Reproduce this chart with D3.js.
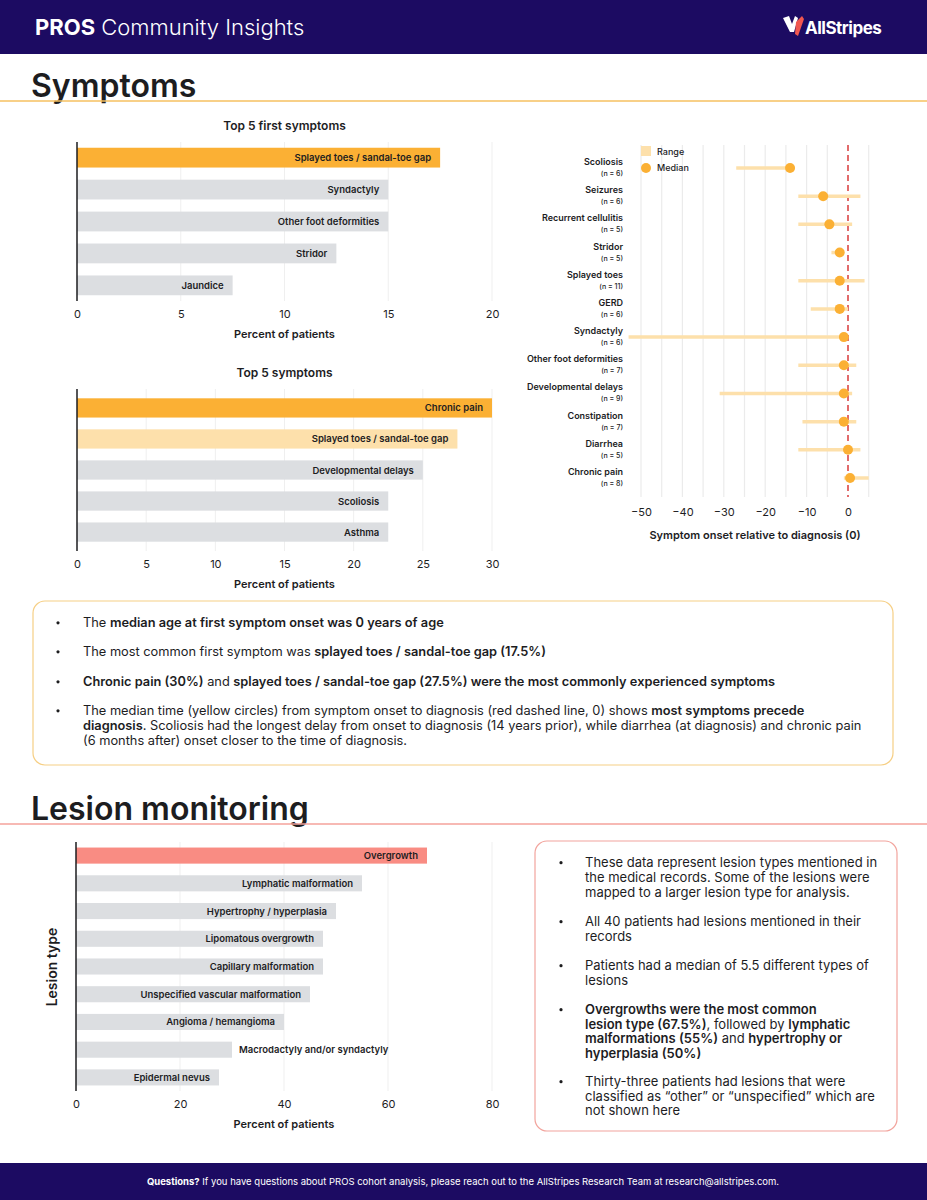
<!DOCTYPE html>
<html>
<head>
<meta charset="utf-8">
<script src="https://cdn.jsdelivr.net/npm/d3@7"></script>
<style>
  body { margin: 0; background: #fff; }
  svg { display: block; font-family: Inter, "Open Sans", sans-serif; }
</style>
</head>
<body>
<script>
// ---- data ----
const firstSymptoms = ["Splayed toes / sandal-toe gap", "Syndactyly", "Other foot deformities", "Stridor", "Jaundice"];
const firstSymptomPct = [17.5, 15, 15, 12.5, 7.5];
const firstTicks = [0, 5, 10, 15, 20];

const topSymptoms = ["Chronic pain", "Splayed toes / sandal-toe gap", "Developmental delays", "Scoliosis", "Asthma"];
const topSymptomPct = [30, 27.5, 25, 22.5, 22.5];
const topTicks = [0, 5, 10, 15, 20, 25, 30];

const onsetNames = ["Scoliosis", "Seizures", "Recurrent cellulitis", "Stridor", "Splayed toes", "GERD",
  "Syndactyly", "Other foot deformities", "Developmental delays", "Constipation", "Diarrhea", "Chronic pain"];
const onsetN = [6, 6, 5, 5, 11, 6, 6, 7, 9, 7, 5, 8];
const onsetMin = [-27, -12, -12, -4, -12, -9, -53, -12, -31, -11, -12, -1];
const onsetMax = [-14, 3, 1, -2, 4, 0, -1, 2, 1, 2, 3, 5];
const onsetMedian = [-14, -6, -4.5, -2, -2, -2, -1, -1, -1, -1, 0, 0.5];
const onsetTicks = [-50, -40, -30, -20, -10, 0];

const lesionTypes = ["Overgrowth", "Lymphatic malformation", "Hypertrophy / hyperplasia", "Lipomatous overgrowth",
  "Capillary malformation", "Unspecified vascular malformation", "Angioma / hemangioma",
  "Macrodactyly and/or syndactyly", "Epidermal nevus"];
const lesionPct = [67.5, 55, 50, 47.5, 47.5, 45, 40, 30, 27.5];
const lesionTicks = [0, 20, 40, 60, 80];

const NAVY = "#1c0b62";
const ORANGE = "#fbb034";
const LIGHT = "#fde0ab";
const GRAY = "#dcdee1";
const SALMON = "#f98c83";
const INK = "#1d1d1f";

const svg = d3.select("body").append("svg").attr("width", 927).attr("height", 1200);

// ---- header ----
svg.append("rect").attr("x", 0).attr("y", 0).attr("width", 927).attr("height", 54).attr("fill", NAVY);
const ht = svg.append("text").attr("x", 35).attr("y", 35).attr("fill", "#fff").attr("font-size", 22);
ht.append("tspan").attr("font-weight", 700).text("PROS");
ht.append("tspan").attr("font-weight", 300).text(" Community Insights");

// logo
const logo = svg.append("g").attr("transform", "translate(783,16)");
logo.append("path").attr("d", "M0,2 L6,0 L9,8 L12,0 L15,2 L11,16 L7,16 Z").attr("fill", "#fff");
logo.append("path").attr("d", "M13,6 L19,0 L21,3 L15,20 L12,18 Z").attr("fill", "#f0574f");
svg.append("text").attr("x", 805).attr("y", 34).attr("fill", "#fff").attr("font-size", 17)
  .attr("font-weight", 700).attr("letter-spacing", -0.5).text("AllStripes");

// ---- section titles ----
function sectionTitle(label, y, color) {
  svg.append("text").attr("x", 31).attr("y", y).attr("fill", INK).attr("font-size", 32)
    .attr("font-weight", 600).text(label);
  svg.append("line").attr("x1", 0).attr("x2", 927).attr("y1", y + 4).attr("y2", y + 4)
    .attr("stroke", color).attr("stroke-width", 1.5);
}
sectionTitle("Symptoms", 97, "#f6c060");
sectionTitle("Lesion monitoring", 820, "#f4a29b");

// ---- horizontal bar chart ----
function barChart(o) {
  const x = d3.scaleLinear().domain(o.domain).range([o.x0, o.x1]);
  const y = d3.scaleBand().domain(o.cats).range([o.yTop, o.yBot]).paddingInner(o.padIn).paddingOuter(o.padOut);
  const g = svg.append("g");
  if (o.title) {
    g.append("text").attr("x", (o.x0 + o.x1) / 2).attr("y", o.yTop - 12).attr("text-anchor", "middle")
      .attr("font-size", 12).attr("font-weight", 600).attr("fill", INK).text(o.title);
  }
  // grid
  g.selectAll(".grid").data(o.ticks.slice(1)).join("line")
    .attr("x1", d => x(d)).attr("x2", d => x(d)).attr("y1", o.yTop).attr("y2", o.yBot)
    .attr("stroke", "#efefef").attr("stroke-width", 1);
  const rows = g.selectAll(".bar").data(o.cats).join("g");
  rows.append("rect")
    .attr("x", x(0)).attr("y", d => y(d)).attr("height", y.bandwidth())
    .attr("width", (d, i) => x(o.vals[i]) - x(0))
    .attr("fill", (d, i) => o.colors[i] || GRAY);
  rows.append("text")
    .attr("y", d => y(d) + y.bandwidth() / 2 + 3.5)
    .attr("font-size", o.labelSize).attr("font-weight", 600).attr("fill", INK)
    .text(d => d)
    .each(function (d, i) {
      const w = this.getComputedTextLength();
      const end = x(o.vals[i]);
      if (w + 20 < end - x(0)) {
        d3.select(this).attr("x", end - 9).attr("text-anchor", "end");
      } else {
        d3.select(this).attr("x", end + 7).attr("text-anchor", "start");
      }
    });
  // axis
  const ax = g.append("g").attr("transform", `translate(0,${o.yBot})`)
    .call(d3.axisBottom(x).tickValues(o.ticks).tickSize(0).tickPadding(9));
  ax.select(".domain").remove();
  ax.selectAll("text").attr("font-size", 11).attr("fill", INK).attr("font-family", "Inter, sans-serif");
  g.append("line").attr("x1", x(0)).attr("x2", x(0)).attr("y1", o.yTop).attr("y2", o.yBot)
    .attr("stroke", INK).attr("stroke-width", 1.5);
  g.append("text").attr("x", (o.x0 + o.x1) / 2).attr("y", o.yBot + 37).attr("text-anchor", "middle")
    .attr("font-size", 11).attr("font-weight", 600).attr("fill", INK).text("Percent of patients");
  return g;
}

barChart({ cats: firstSymptoms, vals: firstSymptomPct, ticks: firstTicks, domain: [0, 20],
  colors: [ORANGE], x0: 77, x1: 492, yTop: 142, yBot: 301, padIn: 0.38, padOut: 0.18,
  labelSize: 9.5, title: "Top 5 first symptoms" });
barChart({ cats: topSymptoms, vals: topSymptomPct, ticks: topTicks, domain: [0, 30],
  colors: [ORANGE, LIGHT], x0: 77, x1: 492, yTop: 389, yBot: 551, padIn: 0.38, padOut: 0.3,
  labelSize: 9.5, title: "Top 5 symptoms" });

// ---- onset dot chart ----
(function () {
  const x = d3.scaleLinear().domain([-50, 0]).range([641, 848]);
  const y = d3.scalePoint().domain(onsetNames).range([168, 478]);
  const g = svg.append("g");
  g.selectAll(".grid").data(d3.range(-50, 6, 5).filter(d => d !== 0)).join("line")
    .attr("x1", d => x(d)).attr("x2", d => x(d)).attr("y1", 145).attr("y2", 497)
    .attr("stroke", "#ebebeb").attr("stroke-width", 1.2);
  g.append("line").attr("x1", x(0)).attr("x2", x(0)).attr("y1", 145).attr("y2", 497)
    .attr("stroke", "#e26b6b").attr("stroke-width", 2).attr("stroke-dasharray", "6,4");
  const rows = g.selectAll(".row").data(onsetNames).join("g");
  rows.append("line")
    .attr("x1", (d, i) => x(onsetMin[i])).attr("x2", (d, i) => x(onsetMax[i]))
    .attr("y1", d => y(d)).attr("y2", d => y(d))
    .attr("stroke", LIGHT).attr("stroke-width", 3.5);
  rows.append("circle").attr("cx", (d, i) => x(onsetMedian[i])).attr("cy", d => y(d)).attr("r", 5)
    .attr("fill", ORANGE);
  rows.append("text").attr("x", 623).attr("y", d => y(d) - 3).attr("text-anchor", "end")
    .attr("font-size", 9).attr("font-weight", 600).attr("fill", INK).text(d => d);
  rows.append("text").attr("x", 623).attr("y", d => y(d) + 8).attr("text-anchor", "end")
    .attr("font-size", 7).attr("font-weight", 500).attr("fill", INK).text((d, i) => `(n = ${onsetN[i]})`);
  // legend
  g.append("rect").attr("x", 641).attr("y", 146).attr("width", 10).attr("height", 10).attr("fill", LIGHT);
  g.append("circle").attr("cx", 646).attr("cy", 168).attr("r", 5).attr("fill", ORANGE);
  g.append("text").attr("x", 657).attr("y", 155).attr("font-size", 9).attr("font-weight", 500).attr("fill", INK).text("Range");
  g.append("text").attr("x", 657).attr("y", 171).attr("font-size", 9).attr("font-weight", 500).attr("fill", INK).text("Median");
  const ax = g.append("g").attr("transform", "translate(0,497)")
    .call(d3.axisBottom(x).tickValues(onsetTicks).tickSize(0).tickPadding(11).tickFormat(d => d < 0 ? "\u2212" + (-d) : d));
  ax.select(".domain").remove();
  ax.selectAll("text").attr("font-size", 11).attr("fill", INK).attr("font-family", "Inter, sans-serif");
  g.append("text").attr("x", 755).attr("y", 539).attr("text-anchor", "middle").attr("font-size", 11)
    .attr("font-weight", 600).attr("fill", INK).text("Symptom onset relative to diagnosis (0)");
})();

// ---- text boxes ----
function box(x, y, w, h, color) {
  svg.append("rect").attr("x", x).attr("y", y).attr("width", w).attr("height", h).attr("rx", 12)
    .attr("fill", "#fff").attr("stroke", color).attr("stroke-width", 1.2);
}
function richLines(xBullet, xText, items, size) {
  items.forEach(it => {
    svg.append("circle").attr("cx", xBullet).attr("cy", it.lines[0].y - size * 0.33).attr("r", 1.6).attr("fill", INK);
    it.lines.forEach(l => {
      const t = svg.append("text").attr("x", xText).attr("y", l.y).attr("font-size", size).attr("fill", INK);
      l.parts.forEach(p => t.append("tspan").attr("font-weight", p[1] ? 600 : 400).text(p[0]));
    });
  });
}

box(33, 601, 860, 164, "#f6cf85");
richLines(58, 83, [
  { lines: [{ y: 627, parts: [["The ", 0], ["median age at first symptom onset was 0 years of age", 1]] }] },
  { lines: [{ y: 656, parts: [["The most common first symptom was ", 0], ["splayed toes / sandal-toe gap (17.5%)", 1]] }] },
  { lines: [{ y: 686, parts: [["Chronic pain (30%)", 1], [" and ", 0], ["splayed toes / sandal-toe gap  (27.5%) were the most commonly experienced symptoms", 1]] }] },
  { lines: [
    { y: 715, parts: [["The median time (yellow circles) from symptom onset to diagnosis (red dashed line, 0) shows ", 0], ["most symptoms precede", 1]] },
    { y: 730, parts: [["diagnosis", 1], [". Scoliosis had the longest delay from onset to diagnosis (14 years prior), while diarrhea (at diagnosis) and chronic pain", 0]] },
    { y: 745, parts: [["(6 months after) onset closer to the time of diagnosis.", 0]] }] }
], 12.8);

// ---- lesion chart ----
barChart({ cats: lesionTypes, vals: lesionPct, ticks: lesionTicks, domain: [0, 80],
  colors: [SALMON], x0: 76, x1: 492, yTop: 842, yBot: 1091, padIn: 0.42, padOut: 0.2,
  labelSize: 9.5, title: null });
svg.append("text").attr("transform", "translate(57,967) rotate(-90)").attr("text-anchor", "middle")
  .attr("font-size", 14).attr("font-weight", 600).attr("fill", INK).text("Lesion type");

box(535, 841, 362, 290, "#f2a49d");
richLines(561, 585, [
  { lines: [
    { y: 867, parts: [["These data represent lesion types mentioned in", 0]] },
    { y: 882, parts: [["the medical records. Some of the lesions were", 0]] },
    { y: 897, parts: [["mapped to a larger lesion type for analysis.", 0]] }] },
  { lines: [
    { y: 926, parts: [["All 40 patients had lesions mentioned in their", 0]] },
    { y: 941, parts: [["records", 0]] }] },
  { lines: [
    { y: 970, parts: [["Patients had a median of 5.5 different types of", 0]] },
    { y: 985, parts: [["lesions", 0]] }] },
  { lines: [
    { y: 1014, parts: [["Overgrowths were the most common", 1]] },
    { y: 1029, parts: [["lesion type (67.5%)", 1], [", followed by ", 0], ["lymphatic", 1]] },
    { y: 1043, parts: [["malformations (55%)", 1], [" and ", 0], ["hypertrophy or", 1]] },
    { y: 1058, parts: [["hyperplasia (50%)", 1]] }] },
  { lines: [
    { y: 1086, parts: [["Thirty-three patients had lesions that were", 0]] },
    { y: 1101, parts: [["classified as \u201cother\u201d or \u201cunspecified\u201d which are", 0]] },
    { y: 1115, parts: [["not shown here", 0]] }] }
], 13);

// ---- footer ----
svg.append("rect").attr("x", 0).attr("y", 1163).attr("width", 927).attr("height", 37).attr("fill", NAVY);
const ft = svg.append("text").attr("x", 463).attr("y", 1185).attr("text-anchor", "middle")
  .attr("fill", "#fff").attr("font-size", 9.5);
ft.append("tspan").attr("font-weight", 700).text("Questions?");
ft.append("tspan").text("  If you have questions about PROS cohort analysis, please reach out to the AllStripes Research Team at research@allstripes.com.");
</script>
</body>
</html>
